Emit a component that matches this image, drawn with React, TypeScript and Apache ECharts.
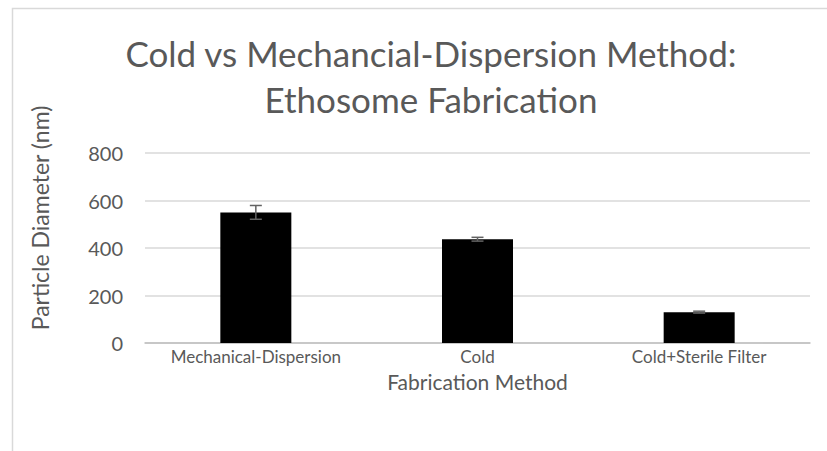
import React, { useEffect, useRef } from "react";
import * as echarts from "echarts";

const categories = ["Mechanical-Dispersion", "Cold", "Cold+Sterile Filter"];
const diameters = [550, 437, 130];
const errors = [29, 8, 4];
const yTicks = { min: 0, max: 800, interval: 200 };

const FONT = "Lato, 'Open Sans', sans-serif";
const GREY = "#595959";

export default function App() {
  const ref = useRef<HTMLDivElement>(null);
  useEffect(() => {
    if (!ref.current) return;
    const chart = echarts.init(ref.current, null, { renderer: "svg" });
    const errData = diameters.map((v, i) => [i, v - errors[i], v + errors[i]]);
    chart.setOption({
      animation: false,
      backgroundColor: "#ffffff",
      textStyle: { fontFamily: FONT },
      grid: { left: 145, right: 17, top: 153, bottom: 108 },
      graphic: [
        {
          type: "rect",
          shape: { x: 12.5, y: 8.5, width: 840, height: 460 },
          style: { fill: "none", stroke: "#d9d9d9", lineWidth: 1.5 },
          silent: true,
        },
        {
          type: "text",
          x: 431,
          y: 53,
          style: {
            text: "Cold vs Mechancial-Dispersion Method:",
            fill: GREY,
            font: `35px ${FONT}`,
            textAlign: "center",
            textVerticalAlign: "middle",
          },
        },
        {
          type: "text",
          x: 431,
          y: 99,
          style: {
            text: "Ethosome Fabrication",
            fill: GREY,
            font: `35px ${FONT}`,
            textAlign: "center",
            textVerticalAlign: "middle",
          },
        },
        {
          type: "text",
          x: 40,
          y: 218,
          rotation: Math.PI / 2,
          style: {
            text: "Particle Diameter (nm)",
            fill: GREY,
            font: `23px ${FONT}`,
            textAlign: "center",
            textVerticalAlign: "middle",
          },
        },
      ],
      xAxis: {
        type: "category",
        data: categories,
        name: "Fabrication Method",
        nameLocation: "middle",
        nameGap: 28,
        nameTextStyle: { color: GREY, fontSize: 21, fontFamily: FONT },
        axisLine: { lineStyle: { color: "#bfbfbf", width: 1.5 } },
        axisTick: { show: false },
        axisLabel: { color: GREY, fontSize: 17, fontFamily: FONT, margin: 5, interval: 0 },
      },
      yAxis: {
        type: "value",
        min: yTicks.min,
        max: yTicks.max,
        interval: yTicks.interval,
        axisLine: { show: false },
        axisTick: { show: false },
        axisLabel: { color: GREY, fontSize: 20, fontFamily: FONT, margin: 22 },
        splitLine: { lineStyle: { color: "#d9d9d9", width: 1.5 } },
      },
      series: [
        {
          type: "bar",
          data: diameters,
          barWidth: 71,
          itemStyle: { color: "#000000" },
        },
        {
          type: "custom",
          data: errData,
          z: 10,
          renderItem: (params: any, api: any) => {
            const x = api.value(0);
            const lo = api.coord([x, api.value(1)]);
            const hi = api.coord([x, api.value(2)]);
            const hw = 6;
            const style = { stroke: "#636363", lineWidth: 1.5 };
            return {
              type: "group",
              children: [
                { type: "line", shape: { x1: lo[0], y1: lo[1], x2: hi[0], y2: hi[1] }, style },
                { type: "line", shape: { x1: lo[0] - hw, y1: lo[1], x2: lo[0] + hw, y2: lo[1] }, style },
                { type: "line", shape: { x1: hi[0] - hw, y1: hi[1], x2: hi[0] + hw, y2: hi[1] }, style },
              ],
            };
          },
        },
      ],
    });
    return () => chart.dispose();
  }, []);
  return (
    <div
      ref={ref}
      style={{ position: "fixed", left: 0, top: 0, width: 827, height: 451 }}
    />
  );
}
